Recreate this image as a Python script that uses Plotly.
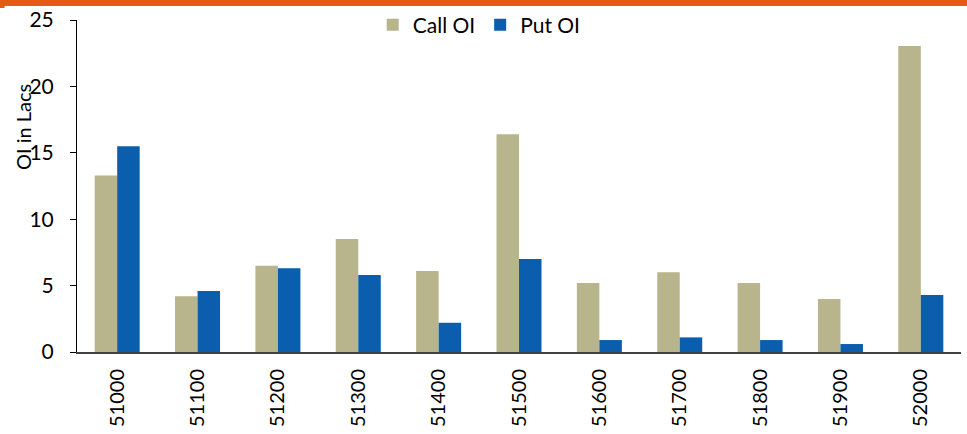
import plotly.graph_objects as go

strikes = ["51000", "51100", "51200", "51300", "51400", "51500", "51600", "51700", "51800", "51900", "52000"]
call_oi = [13.3, 4.2, 6.5, 8.5, 6.1, 16.4, 5.2, 6.0, 5.2, 4.0, 23.05]
put_oi = [15.5, 4.6, 6.3, 5.8, 2.2, 7.0, 0.9, 1.1, 0.9, 0.6, 4.3]
y_ticks = [0, 5, 10, 15, 20, 25]

FONT = "Lato, Noto Sans, sans-serif"

fig = go.Figure()
fig.add_trace(go.Bar(name="Call OI", x=strikes, y=call_oi, marker=dict(color="#B8B58C", line=dict(width=0))))
fig.add_trace(go.Bar(name="Put OI", x=strikes, y=put_oi, marker=dict(color="#0A5EAD", line=dict(width=0))))

PH = 332.0
fig.update_layout(
    width=967, height=434,
    margin=dict(l=77, r=6, t=20, b=82, autoexpand=False),
    paper_bgcolor="white", plot_bgcolor="white",
    barmode="group", bargap=0.44, bargroupgap=0,
    font=dict(family=FONT, size=20, color="#000000"),
    showlegend=True,
    legend=dict(orientation="h", x=0.455, xanchor="center", y=0.985, yanchor="middle",
                font=dict(size=21, family=FONT), bgcolor="rgba(0,0,0,0)",
                itemwidth=30, tracegroupgap=0),
    xaxis=dict(type="category", tickangle=-90, showgrid=False, showline=True,
               linecolor="#404040", linewidth=2, ticks="", automargin=False,
               ticklabelstandoff=7,
               tickfont=dict(size=20, family=FONT)),
    yaxis=dict(range=[0, 25], tickvals=y_ticks, showgrid=False, showline=True,
               linecolor="#000000", linewidth=1, ticks="outside", ticklen=6,
               tickcolor="#000000", zeroline=False, automargin=False,
               ticklabelstandoff=12,
               tickfont=dict(size=21, family=FONT)),
    shapes=[dict(type="rect", xref="paper", yref="paper", x0=-0.09, x1=1.01,
                 y0=1.0 + 14/PH, y1=1.0 + 21/PH, fillcolor="#E35B14", line=dict(width=0)),
            dict(type="rect", xref="paper", yref="paper", x0=-0.09, x1=-0.082,
                 y0=1.0 + 12/PH, y1=1.0 + 21/PH, fillcolor="#E35B14", line=dict(width=0))],
    annotations=[dict(text="OI in Lacs", xref="paper", yref="paper", x=-0.061, y=0.678,
                      xanchor="center", yanchor="middle", textangle=-90, showarrow=False,
                      font=dict(size=20, family=FONT))],
)

fig.write_html("out.html", config={"displayModeBar": False},
               post_script="document.body.style.margin='0';")
